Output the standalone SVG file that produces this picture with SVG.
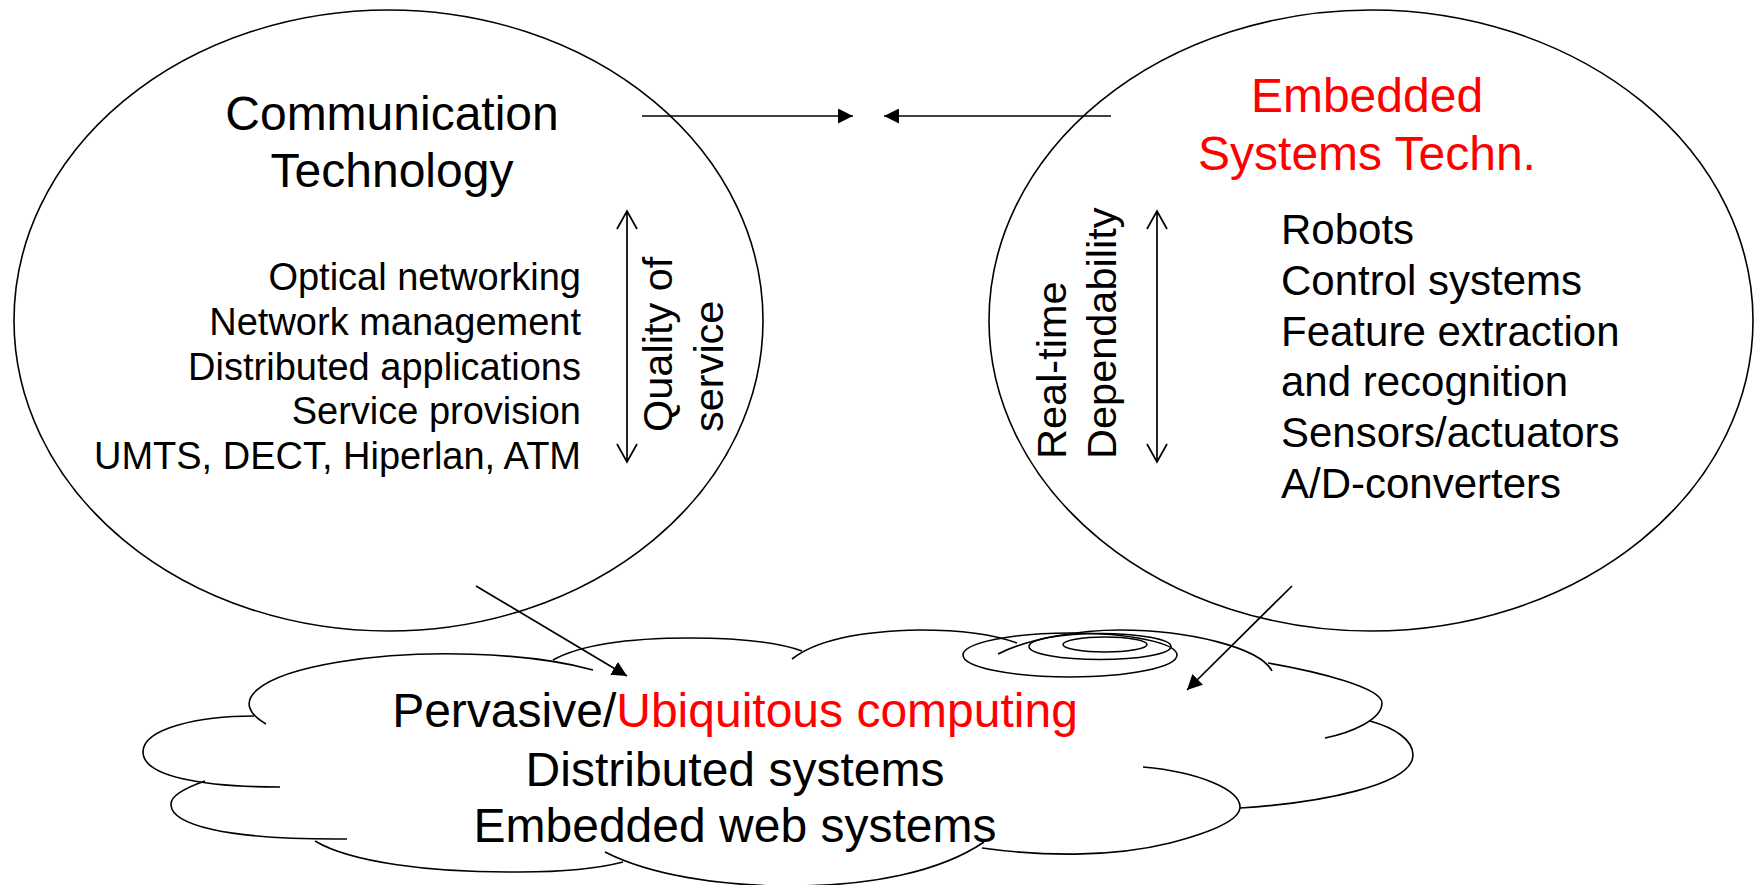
<svg xmlns="http://www.w3.org/2000/svg" width="1760" height="885" viewBox="0 0 1760 885">
  <style>
    .shape { fill: none; stroke: #000; stroke-width: 1.6; }
    .line { fill: none; stroke: #000; stroke-width: 1.7; }
    .title { font-family: "Liberation Sans", Arial, sans-serif; font-size: 48px; fill: #000; }
    .red { fill: #FF0000; }
    .list-l { font-family: "Liberation Sans", Arial, sans-serif; font-size: 38px; fill: #000; }
    .list-r { font-family: "Liberation Sans", Arial, sans-serif; font-size: 42px; fill: #000; }
    .side { font-family: "Liberation Sans", Arial, sans-serif; font-size: 41.5px; fill: #000; }
  </style>
  <defs>
    <marker id="head" viewBox="0 0 15 15" refX="15" refY="7.5" markerWidth="15" markerHeight="15" markerUnits="userSpaceOnUse" orient="auto">
      <path d="M0,0 L15,7.5 L0,15 z" fill="#000"/>
    </marker>
  </defs>
  <rect width="1760" height="885" fill="#fff"/>

  <!-- Communication technology -->
  <g id="comm-tech">
    <ellipse class="shape" cx="388.5" cy="320.5" rx="374.5" ry="310.5"/>
    <text class="title" x="392" y="130" text-anchor="middle">Communication</text>
    <text class="title" x="392" y="187" text-anchor="middle">Technology</text>
    <g class="list-l" text-anchor="end">
      <text x="581" y="290">Optical networking</text>
      <text x="581" y="335">Network management</text>
      <text x="581" y="380">Distributed applications</text>
      <text x="581" y="424">Service provision</text>
      <text x="581" y="469">UMTS, DECT, Hiperlan, ATM</text>
    </g>
    <!-- quality of service range -->
    <path class="line" d="M627,211 V462 M617,229 L627,211 L637,229 M617,444 L627,462 L637,444"/>
    <text class="side" transform="translate(672,432) rotate(-90)">Quality of</text>
    <text class="side" transform="translate(723,432) rotate(-90)">service</text>
  </g>

  <!-- Embedded systems technology -->
  <g id="embedded-tech">
    <ellipse class="shape" cx="1371" cy="320.5" rx="382" ry="310.5"/>
    <text class="title red" x="1367" y="112" text-anchor="middle">Embedded</text>
    <text class="title red" x="1367" y="170" text-anchor="middle">Systems Techn.</text>
    <g class="list-r">
      <text x="1281" y="244">Robots</text>
      <text x="1281" y="295">Control systems</text>
      <text x="1281" y="346">Feature extraction</text>
      <text x="1281" y="396">and recognition</text>
      <text x="1281" y="447">Sensors/actuators</text>
      <text x="1281" y="498">A/D-converters</text>
    </g>
    <!-- real-time / dependability range -->
    <path class="line" d="M1157,211 V462 M1147,229 L1157,211 L1167,229 M1147,444 L1157,462 L1167,444"/>
    <text class="side" transform="translate(1066,459) rotate(-90)">Real-time</text>
    <text class="side" transform="translate(1116,459) rotate(-90)">Dependability</text>
  </g>

  <!-- Pervasive computing cloud -->
  <g id="cloud">
    <g class="shape">
      <!-- lobes, left to right over the top, then back along the bottom -->
      <path d="M266,724 A198,50 0 0 1 593,670"/>
      <path d="M553,660 C580,645 630,638 690,638 C740,638 780,643 802,651"/>
      <path d="M792,659 C815,641 860,631 920,630 C960,630 995,635 1017,643"/>
      <path d="M998,654 C1030,638 1080,630 1120,630 C1190,630 1260,648 1272,671"/>
      <path d="M1268,663 C1320,672 1382,688 1382,703 C1382,720 1350,733 1325,738"/>
      <path d="M1240,808 C1320,803 1413,785 1413,755 C1413,740 1395,728 1370,721"/>
      <path d="M982,848 C1040,856 1110,858 1170,843 C1220,830 1240,818 1240,807 C1240,790 1200,772 1143,767"/>
      <path d="M605,852 C650,875 720,886 790,886 C870,886 940,872 984,842"/>
      <path d="M315,841 C350,862 430,873 520,872 C570,872 600,868 623,862"/>
      <path d="M205,781 C182,789 170,797 171,805 C172,824 222,840 347,839"/>
      <path d="M254,716 C200,716 143,728 143,752 C143,776 200,787 280,787"/>
      <!-- tail bubbles -->
      <ellipse cx="1070" cy="655" rx="107" ry="22"/>
      <ellipse cx="1100" cy="646.5" rx="71" ry="13"/>
      <ellipse cx="1105" cy="644.5" rx="42" ry="7.5"/>
    </g>
    <text class="title" x="735" y="727" text-anchor="middle">Pervasive/<tspan class="red">Ubiquitous computing</tspan></text>
    <text class="title" x="735" y="786" text-anchor="middle">Distributed systems</text>
    <text class="title" x="735" y="842" text-anchor="middle">Embedded web systems</text>
  </g>

  <!-- connectors -->
  <g id="connectors" class="line" marker-end="url(#head)">
    <path d="M642,116 H853"/>
    <path d="M1111,116 H884"/>
    <path d="M476,586 L627,676"/>
    <path d="M1292,586 L1187,690"/>
  </g>
</svg>
